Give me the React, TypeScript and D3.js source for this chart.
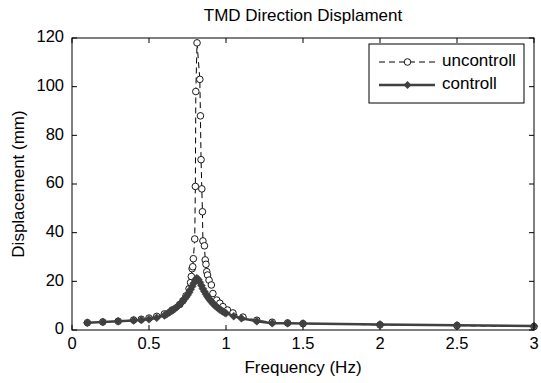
import React from "react";
import * as d3 from "d3";

const title = "TMD Direction Displament";
const xLabel = "Frequency (Hz)";
const yLabel = "Displacement (mm)";
const xTicks = [0, 0.5, 1, 1.5, 2, 2.5, 3];
const yTicks = [0, 20, 40, 60, 80, 100, 120];
const seriesNames = ["uncontroll", "controll"];

const uFreq = [0.1, 0.2, 0.3, 0.4, 0.45, 0.5, 0.55, 0.6, 0.65, 0.7, 0.72, 0.74, 0.76, 0.77, 0.775, 0.78, 0.784, 0.788, 0.797, 0.801, 0.804, 0.812, 0.83, 0.834, 0.838, 0.843, 0.847, 0.85, 0.86, 0.865, 0.87, 0.875, 0.88, 0.89, 0.905, 0.915, 0.94, 0.96, 0.98, 1.01, 1.045, 1.11, 1.2, 1.3, 1.4, 1.5, 2.0, 2.5, 3.0];
const uVal = [3.0, 3.3, 3.6, 4.1, 4.4, 4.9, 5.6, 6.6, 8.2, 10.5, 12, 14, 17, 19.5, 22, 25.2, 26, 29.3, 37.4, 59, 98, 118, 103, 88, 70, 58, 48.6, 36.6, 34.6, 28.8, 27, 24, 22.6, 20.5, 18.5, 15, 12.3, 11, 9.6, 8.2, 7, 5.3, 4.0, 3.2, 2.9, 2.6, 2.1, 1.8, 1.4];

const cFreq = [0.1, 0.2, 0.3, 0.4, 0.45, 0.5, 0.55, 0.6, 0.61, 0.62, 0.63, 0.64, 0.65, 0.66, 0.67, 0.68, 0.69, 0.7, 0.71, 0.72, 0.73, 0.74, 0.75, 0.76, 0.77, 0.78, 0.79, 0.8, 0.81, 0.82, 0.83, 0.84, 0.85, 0.86, 0.87, 0.88, 0.89, 0.9, 0.91, 0.92, 0.93, 0.94, 0.95, 0.96, 0.97, 0.98, 0.99, 1.0, 1.05, 1.1, 1.2, 1.3, 1.4, 1.5, 2.0, 2.5, 3.0];
const cVal = [3.0, 3.3, 3.6, 3.9, 4.1, 4.4, 5.0, 6.0, 6.4, 6.8, 7.2, 7.6, 8.0, 8.4, 8.9, 9.4, 10.0, 10.6, 11.2, 11.9, 12.7, 13.5, 14.4, 15.4, 16.6, 17.9, 19.2, 20.5, 21.3, 20.8, 19.6, 18.3, 17.0, 15.8, 14.7, 13.7, 12.8, 12.0, 11.3, 10.6, 10.0, 9.4, 8.9, 8.4, 8.0, 7.6, 7.2, 6.9, 5.7, 4.8, 3.6, 2.8, 2.75, 2.7, 2.3, 2.0, 1.6];

const W = 541, H = 383;
const L = 72, R = 534, T = 38, B = 330;
const FONT = "'Liberation Sans', Arial, sans-serif";
const DARK = "#404040";
const FS = 16.5;

export default function App() {
  const x = d3.scaleLinear().domain([0, 3]).range([L, R]);
  const y = d3.scaleLinear().domain([0, 120]).range([B, T]);
  const uPts: [number, number][] = uFreq.map((f, i) => [f, uVal[i]]);
  const cPts: [number, number][] = cFreq.map((f, i) => [f, cVal[i]]);
  const line = d3.line<[number, number]>().x(d => x(d[0])).y(d => y(d[1]));
  const diamond = (cx: number, cy: number, r: number) =>
    `M${cx},${cy - r}L${cx + r},${cy}L${cx},${cy + r}L${cx - r},${cy}Z`;
  const tl = 5;

  return (
    <svg width={W} height={H} style={{ position: "absolute", left: 0, top: 0, background: "#fff" }} fontFamily={FONT}>
      <rect x={0} y={0} width={W} height={H} fill="#fff" />
      {xTicks.map(t => (
        <g key={"x" + t}>
          <line x1={x(t)} x2={x(t)} y1={B} y2={B - tl} stroke="#000" />
          <line x1={x(t)} x2={x(t)} y1={T} y2={T + tl} stroke="#000" />
          <text x={x(t)} y={B + 15} fontSize={FS} textAnchor="middle" dominantBaseline="middle">{String(t)}</text>
        </g>
      ))}
      {yTicks.map(t => (
        <g key={"y" + t}>
          <line x1={L} x2={L + tl} y1={y(t)} y2={y(t)} stroke="#000" />
          <line x1={R} x2={R - tl} y1={y(t)} y2={y(t)} stroke="#000" />
          <text x={L - 8} y={y(t)} fontSize={FS} textAnchor="end" dominantBaseline="middle">{String(t)}</text>
        </g>
      ))}
      <path d={line(uPts) || ""} fill="none" stroke="#000" strokeWidth={1} strokeDasharray="6,4" />
      {uPts.map((p, i) => (
        <circle key={"u" + i} cx={x(p[0])} cy={y(p[1])} r={3.3} fill="#fff" stroke="#000" strokeWidth={0.9} />
      ))}
      <path d={line(cPts) || ""} fill="none" stroke={DARK} strokeWidth={2.5} />
      {cPts.map((p, i) => (
        <path key={"c" + i} d={diamond(x(p[0]), y(p[1]), 4)} fill={DARK} stroke={DARK} strokeWidth={0.5} />
      ))}
      <rect x={L} y={T} width={R - L} height={B - T} fill="none" stroke="#000" strokeWidth={1} />
      <text x={(L + R) / 2} y={17} fontSize={17} textAnchor="middle" dominantBaseline="middle">{title}</text>
      <text x={(L + R) / 2} y={369} fontSize={17} textAnchor="middle" dominantBaseline="middle">{xLabel}</text>
      <text transform={`translate(20,${(T + B) / 2}) rotate(-90)`} fontSize={17} textAnchor="middle" dominantBaseline="middle">{yLabel}</text>
      <g>
        <rect x={369} y={44} width={155} height={59} fill="#fff" stroke="#000" strokeWidth={1} />
        <line x1={379} x2={435} y1={62} y2={62} stroke="#000" strokeDasharray="6,4" />
        <circle cx={407.5} cy={62} r={3.3} fill="#fff" stroke="#000" strokeWidth={0.9} />
        <text x={442} y={62} fontSize={17} dominantBaseline="middle">{seriesNames[0]}</text>
        <line x1={379} x2={435} y1={85} y2={85} stroke={DARK} strokeWidth={2.5} />
        <path d={diamond(407.5, 85, 4)} fill={DARK} />
        <text x={442} y={85} fontSize={17} dominantBaseline="middle">{seriesNames[1]}</text>
      </g>
    </svg>
  );
}
